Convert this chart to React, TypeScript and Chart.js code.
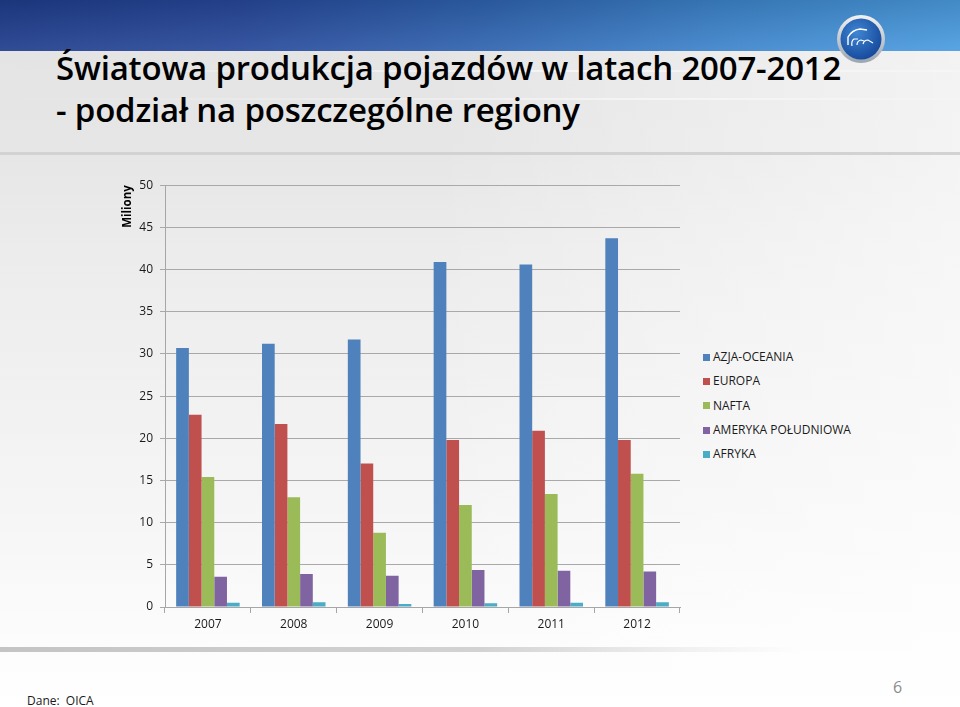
import React, { useEffect, useRef } from "react";
import { Chart, registerables } from "chart.js";

Chart.register(...registerables);

if (typeof document !== "undefined") {
  document.body.style.margin = "0";
}

// ---- Data ----
const years = ["2007", "2008", "2009", "2010", "2011", "2012"];
const azjaOceania = [30.7, 31.2, 31.7, 40.9, 40.6, 43.7];
const europa = [22.8, 21.7, 17.0, 19.8, 20.9, 19.8];
const nafta = [15.4, 13.0, 8.8, 12.1, 13.4, 15.8];
const amerykaPoludniowa = [3.6, 3.9, 3.7, 4.4, 4.3, 4.2];
const afryka = [0.5, 0.55, 0.35, 0.45, 0.5, 0.55];

const seriesNames = ["AZJA-OCEANIA", "EUROPA", "NAFTA", "AMERYKA POŁUDNIOWA", "AFRYKA"];
const seriesValues = [azjaOceania, europa, nafta, amerykaPoludniowa, afryka];
const seriesColors = ["#4F81BD", "#C0504D", "#9BBB59", "#8064A2", "#4BACC6"];

const yMin = 0;
const yMax = 50;
const yStep = 5;

const titleLine1 = "Światowa produkcja pojazdów w latach 2007-2012";
const titleLine2 = "- podział na poszczególne regiony";
const yAxisTitle = "Miliony";
const sourceText = "Dane:  OICA";
const pageNumber = "6";

const FONT = "'Open Sans', 'DejaVu Sans', sans-serif";

function BarChart() {
  const canvasRef = useRef<HTMLCanvasElement | null>(null);

  useEffect(() => {
    if (!canvasRef.current) return;
    const chart = new Chart(canvasRef.current, {
      type: "bar",
      data: {
        labels: years,
        datasets: seriesNames.map((name, i) => ({
          label: name,
          data: seriesValues[i],
          backgroundColor: seriesColors[i],
          borderWidth: 0,
          categoryPercentage: 0.74,
          barPercentage: 1.0,
        })),
      },
      options: {
        animation: false,
        responsive: false,
        maintainAspectRatio: false,
        layout: { padding: { top: 10, right: 5, bottom: 0, left: 0 } },
        plugins: {
          legend: { display: false },
          tooltip: { enabled: false },
        },
        scales: {
          x: {
            grid: {
              drawOnChartArea: false,
              drawTicks: true,
              tickLength: 6,
              color: "#a6a6a6",
              offset: true,
            },
            border: { color: "#a6a6a6" },
            ticks: {
              color: "#1a1a1a",
              font: { family: FONT, size: 12 },
              padding: 4,
            },
            afterFit: (s: any) => {
              s.height = 40;
            },
          },
          y: {
            min: yMin,
            max: yMax,
            ticks: {
              stepSize: yStep,
              color: "#1a1a1a",
              font: { family: FONT, size: 12 },
              padding: 7,
            },
            grid: { color: "#a9a9a9", tickLength: 5 },
            border: { color: "#a6a6a6" },
            title: {
              display: true,
              text: yAxisTitle,
              align: "end",
              color: "#000",
              font: { family: FONT, size: 11.5, weight: "bold" },
              padding: { top: 11, bottom: 0 },
            },
            afterFit: (s: any) => {
              s.width = 55;
            },
          },
        },
      },
    });
    return () => chart.destroy();
  }, []);

  return (
    <canvas
      ref={canvasRef}
      width={575}
      height={476}
      style={{ position: "absolute", left: 110, top: 171, width: 575, height: 476 }}
    />
  );
}

function Logo() {
  return (
    <svg
      width={56}
      height={56}
      viewBox="0 0 56 56"
      style={{ position: "absolute", left: 833, top: 11 }}
    >
      <defs>
        <radialGradient id="lgFill" cx="40%" cy="35%" r="70%">
          <stop offset="0%" stopColor="#3f86d2" />
          <stop offset="100%" stopColor="#15479a" />
        </radialGradient>
        <linearGradient id="lgRing" x1="0" y1="0" x2="0" y2="1">
          <stop offset="0%" stopColor="#f2f2f2" />
          <stop offset="100%" stopColor="#9aa4b0" />
        </linearGradient>
      </defs>
      <circle cx={28} cy={28} r={24} fill="url(#lgRing)" />
      <circle cx={28} cy={28} r={20.5} fill="url(#lgFill)" />
      <path
        d="M15 34 L15 26 Q19 19 27 18 L34 19"
        stroke="#ffffff"
        strokeWidth={1.4}
        fill="none"
      />
      <path d="M19 35 Q18 30 21 28 L25 28" stroke="#ffffff" strokeWidth={1.2} fill="none" />
      <path d="M24 34 Q24 30 28 29 L31 30" stroke="#ffffff" strokeWidth={1.2} fill="none" />
      <path d="M30 33 Q31 29 35 29 L40 32" stroke="#ffffff" strokeWidth={1.2} fill="none" />
    </svg>
  );
}

const titleStyle: React.CSSProperties = {
  position: "absolute",
  left: 56,
  fontSize: 33,
  lineHeight: "33px",
  fontWeight: 600,
  color: "#000",
  whiteSpace: "nowrap",
  letterSpacing: "-0.2px",
};

export default function App() {
  return (
    <div
      style={{
        position: "relative",
        width: 960,
        height: 707,
        overflow: "hidden",
        fontFamily: FONT,
        background:
          "linear-gradient(90deg, rgba(255,255,255,0) 45%, rgba(255,255,255,0.55) 100%), linear-gradient(180deg, #e3e3e3 0px, #e6e6e6 150px, #ececec 250px, #f5f5f5 500px, #fdfdfd 660px, #ffffff 707px)",
      }}
    >
      {/* Banner */}
      <div
        style={{
          position: "absolute",
          left: 0,
          top: 0,
          width: 960,
          height: 51,
          background:
            "linear-gradient(180deg, rgba(0,0,0,0.12) 0%, rgba(255,255,255,0.08) 100%), linear-gradient(90deg, #1f3d8c 0%, #27489a 25%, #2f63b0 50%, #3d84cc 75%, #4b9de1 100%)",
        }}
      />
      {/* faint streaks in title area */}
      <div style={{ position: "absolute", left: 0, top: 70, width: 960, height: 2, background: "linear-gradient(90deg, rgba(255,255,255,0) 0%, rgba(255,255,255,0.6) 60%, rgba(255,255,255,0.2) 100%)" }} />
      <div style={{ position: "absolute", left: 0, top: 98, width: 960, height: 2, background: "linear-gradient(90deg, rgba(255,255,255,0) 0%, rgba(255,255,255,0.5) 70%, rgba(255,255,255,0.1) 100%)" }} />
      {/* separator under title */}
      <div style={{ position: "absolute", left: 0, top: 152, width: 960, height: 3, background: "#d2d2d2" }} />
      <Logo />
      <div style={{ ...titleStyle, top: 51 }}>{titleLine1}</div>
      <div style={{ ...titleStyle, top: 93 }}>{titleLine2}</div>

      <BarChart />

      {/* Legend */}
      <div style={{ position: "absolute", left: 703, top: 345 }}>
        {seriesNames.map((name, i) => (
          <div
            key={name}
            style={{ display: "flex", alignItems: "center", height: 24.3, fontSize: 12, color: "#1a1a1a" }}
          >
            <span
              style={{ display: "inline-block", width: 7, height: 7, background: seriesColors[i], marginRight: 3 }}
            />
            <span style={{ lineHeight: "16px" }}>{name}</span>
          </div>
        ))}
      </div>

      {/* bottom band */}
      <div
        style={{
          position: "absolute",
          left: 0,
          top: 647,
          width: 800,
          height: 5,
          background:
            "linear-gradient(90deg, rgba(190,190,190,0.9) 0%, rgba(200,200,200,0.8) 60%, rgba(220,220,220,0.4) 85%, rgba(255,255,255,0) 100%)",
        }}
      />
      <div style={{ position: "absolute", left: 27, top: 692, fontSize: 12, color: "#1a1a1a", whiteSpace: "pre" }}>
        {sourceText}
      </div>
      <div style={{ position: "absolute", left: 893, top: 676, fontSize: 16, color: "#8c8c8c" }}>{pageNumber}</div>
    </div>
  );
}
